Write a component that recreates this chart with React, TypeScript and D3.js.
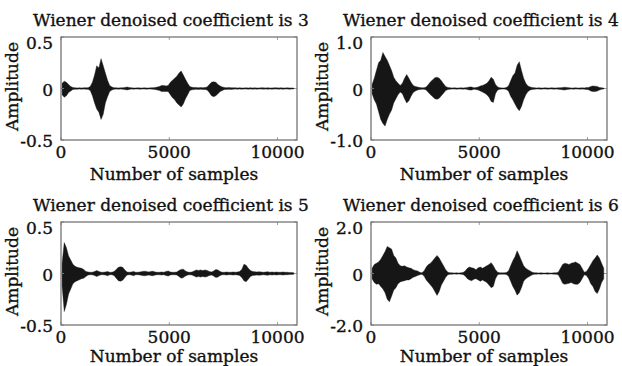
import React from 'react';
import * as d3 from 'd3';

const titles = [
  'Wiener denoised coefficient is 3',
  'Wiener denoised coefficient is 4',
  'Wiener denoised coefficient is 5',
  'Wiener denoised coefficient is 6',
];
const xLabel = 'Number of samples';
const yLabel = 'Amplitude';
const xTicks = [0, 5000, 10000];
const xMax = 10900;
const binSize = 100;
const yMaxes = [0.5, 1.0, 0.5, 2.0];
const yTickLabels = [
  ['0.5', '0', '-0.5'],
  ['1.0', '0', '-1.0'],
  ['0.5', '0', '-0.5'],
  ['2.0', '0', '-2.0'],
];

// Envelope (max / min per 100-sample bin)
const p1Upper = [
  0.05, 0.07, 0.06, 0.04, 0.02, 0.01,
  0.007, 0.006, 0.007, 0.006, 0.007, 0.008, 0.008, 0.02,
  0.06, 0.13, 0.22, 0.2, 0.29, 0.22, 0.15, 0.08, 0.03, 0.015,
  0.008, 0.007, 0.006, 0.007, 0.008, 0.01, 0.015, 0.01, 0.007, 0.006, 0.006, 0.007, 0.006, 0.006, 0.007, 0.006, 0.006, 0.007, 0.008, 0.01,
  0.015, 0.02, 0.03, 0.03, 0.025, 0.03, 0.06, 0.08, 0.1, 0.12, 0.15, 0.17, 0.13, 0.09, 0.05, 0.02, 0.012,
  0.01, 0.01, 0.008, 0.01, 0.008, 0.01,
  0.015, 0.04, 0.06, 0.065, 0.06, 0.04, 0.025, 0.015,
  0.01, 0.008, 0.01, 0.008, 0.007, 0.008, 0.006, 0.007, 0.006, 0.006, 0.007, 0.006, 0.008, 0.006, 0.007, 0.006, 0.006, 0.008, 0.007, 0.006, 0.007, 0.006, 0.006, 0.007, 0.008, 0.006, 0.007, 0.006, 0.006, 0.007, 0.006, 0.006, 0.005,
];
const p1Lower = [
  -0.06, -0.085, -0.07, -0.04, -0.025, -0.01,
  -0.007, -0.007, -0.006, -0.007, -0.006, -0.008, -0.008, -0.02,
  -0.07, -0.14, -0.2, -0.23, -0.3, -0.25, -0.14, -0.08, -0.03, -0.015,
  -0.008, -0.006, -0.007, -0.006, -0.008, -0.01, -0.014, -0.01, -0.006, -0.007, -0.006, -0.006, -0.007, -0.006, -0.006, -0.007, -0.006, -0.006, -0.008, -0.01,
  -0.015, -0.02, -0.03, -0.028, -0.03, -0.03, -0.06, -0.09, -0.11, -0.14, -0.16, -0.18, -0.15, -0.1, -0.06, -0.02, -0.012,
  -0.01, -0.008, -0.01, -0.008, -0.01, -0.009,
  -0.015, -0.04, -0.07, -0.08, -0.07, -0.05, -0.03, -0.02,
  -0.01, -0.009, -0.008, -0.01, -0.007, -0.006, -0.007, -0.006, -0.007, -0.006, -0.006, -0.007, -0.006, -0.008, -0.006, -0.007, -0.006, -0.006, -0.007, -0.006, -0.008, -0.006, -0.007, -0.006, -0.006, -0.007, -0.006, -0.007, -0.006, -0.006, -0.007, -0.006, -0.005,
];

const p2Upper = [
  0.08, 0.2, 0.35, 0.5, 0.55, 0.7, 0.62, 0.55, 0.45, 0.35, 0.22, 0.15, 0.1, 0.06,
  0.1, 0.2, 0.27, 0.2, 0.12, 0.06, 0.04, 0.03, 0.02,
  0.015, 0.015,
  0.03, 0.08, 0.13, 0.17, 0.21, 0.22, 0.2, 0.15, 0.09, 0.04, 0.02,
  0.015, 0.012, 0.015, 0.012, 0.012, 0.015, 0.012, 0.015, 0.02, 0.03, 0.03, 0.015, 0.02,
  0.03, 0.05, 0.06, 0.08, 0.1, 0.15, 0.22, 0.18, 0.08, 0.03,
  0.015, 0.012, 0.012, 0.02,
  0.05, 0.15, 0.25, 0.3, 0.45, 0.52, 0.35, 0.2, 0.1, 0.05, 0.03,
  0.02, 0.015, 0.012, 0.015, 0.012, 0.012, 0.015, 0.012, 0.012, 0.015, 0.012, 0.012, 0.015, 0.015, 0.02, 0.025, 0.02, 0.015, 0.012, 0.012, 0.015, 0.012, 0.012, 0.015, 0.012, 0.02,
  0.02, 0.04, 0.05, 0.045, 0.04, 0.02, 0.015, 0.01,
];
const p2Lower = [
  -0.1, -0.22, -0.3, -0.45, -0.6, -0.68, -0.73, -0.6, -0.5, -0.42, -0.28, -0.2, -0.12, -0.07,
  -0.1, -0.2, -0.28, -0.24, -0.15, -0.08, -0.05, -0.03, -0.02,
  -0.015, -0.015,
  -0.03, -0.08, -0.12, -0.16, -0.2, -0.21, -0.19, -0.14, -0.09, -0.04, -0.02,
  -0.015, -0.012, -0.012, -0.015, -0.012, -0.012, -0.015, -0.012, -0.02, -0.03, -0.03, -0.015, -0.02,
  -0.03, -0.05, -0.07, -0.09, -0.12, -0.17, -0.25, -0.27, -0.1, -0.03,
  -0.015, -0.012, -0.012, -0.02,
  -0.05, -0.15, -0.22, -0.3, -0.38, -0.43, -0.35, -0.22, -0.12, -0.06, -0.03,
  -0.02, -0.015, -0.012, -0.012, -0.015, -0.012, -0.012, -0.015, -0.012, -0.012, -0.015, -0.012, -0.015, -0.02, -0.025, -0.03, -0.02, -0.015, -0.012, -0.015, -0.012, -0.012, -0.015, -0.012, -0.015, -0.02,
  -0.025, -0.05, -0.06, -0.06, -0.05, -0.03, -0.015, -0.01,
];

const p3Upper = [
  0.1, 0.3, 0.25, 0.17, 0.13, 0.09, 0.07, 0.06, 0.055, 0.05, 0.04, 0.02, 0.015,
  0.012, 0.012, 0.02, 0.028, 0.02, 0.012, 0.012, 0.015, 0.02, 0.012, 0.012, 0.02,
  0.04, 0.06, 0.065, 0.06, 0.035,
  0.015, 0.012, 0.015, 0.02, 0.012, 0.012, 0.015, 0.02, 0.022, 0.02, 0.015, 0.02, 0.022, 0.015, 0.012, 0.012, 0.015, 0.012, 0.02, 0.025, 0.015, 0.012, 0.012, 0.015,
  0.03, 0.04, 0.042, 0.025, 0.015, 0.012, 0.015, 0.025, 0.035, 0.03, 0.035, 0.028, 0.035, 0.03, 0.02, 0.015, 0.025, 0.038, 0.035, 0.02, 0.012, 0.012, 0.015, 0.012, 0.012, 0.015, 0.012, 0.015, 0.02,
  0.04, 0.09, 0.08, 0.05, 0.03, 0.02, 0.018, 0.015, 0.018, 0.015, 0.012, 0.015, 0.018, 0.012, 0.015, 0.012, 0.015, 0.012, 0.012, 0.015, 0.012, 0.012, 0.01, 0.01, 0.008,
];
const p3Lower = [
  -0.12, -0.37, -0.3, -0.2, -0.15, -0.1, -0.08, -0.07, -0.06, -0.05, -0.045, -0.03, -0.015,
  -0.012, -0.012, -0.02, -0.03, -0.02, -0.012, -0.012, -0.015, -0.022, -0.012, -0.012, -0.02,
  -0.045, -0.07, -0.075, -0.065, -0.04,
  -0.015, -0.012, -0.015, -0.022, -0.012, -0.012, -0.015, -0.02, -0.022, -0.02, -0.015, -0.02, -0.022, -0.015, -0.012, -0.012, -0.015, -0.012, -0.02, -0.025, -0.015, -0.012, -0.012, -0.015,
  -0.03, -0.045, -0.04, -0.025, -0.015, -0.012, -0.015, -0.025, -0.035, -0.03, -0.035, -0.028, -0.035, -0.03, -0.02, -0.015, -0.025, -0.038, -0.035, -0.02, -0.012, -0.012, -0.015, -0.012, -0.012, -0.015, -0.012, -0.015, -0.02,
  -0.04, -0.07, -0.08, -0.055, -0.03, -0.02, -0.018, -0.015, -0.018, -0.015, -0.012, -0.015, -0.018, -0.012, -0.015, -0.012, -0.015, -0.012, -0.012, -0.015, -0.012, -0.012, -0.01, -0.01, -0.008,
];

const p4Upper = [
  0.2, 0.35, 0.4, 0.45, 0.55, 0.7, 0.85, 1.05, 1.0, 0.95, 0.7, 0.6, 0.4, 0.3, 0.28, 0.3, 0.25, 0.22, 0.2, 0.15, 0.12, 0.1, 0.05, 0.03,
  0.1, 0.25, 0.35, 0.4, 0.5, 0.6, 0.7, 0.6, 0.45, 0.3, 0.15, 0.05,
  0.03, 0.025, 0.02, 0.025, 0.02, 0.025, 0.04,
  0.1, 0.2, 0.25, 0.22, 0.2, 0.15, 0.22, 0.25, 0.2, 0.25, 0.3, 0.35, 0.42, 0.3, 0.15, 0.05,
  0.03, 0.025, 0.025, 0.04,
  0.1, 0.3, 0.5, 0.65, 0.88, 0.7, 0.5, 0.3, 0.2, 0.15, 0.1, 0.05,
  0.03, 0.025, 0.02, 0.025, 0.02, 0.02, 0.025, 0.02, 0.02, 0.025, 0.03, 0.05,
  0.2, 0.35, 0.4, 0.38, 0.35, 0.4, 0.42, 0.45, 0.4, 0.35, 0.2, 0.05,
  0.08, 0.2, 0.35, 0.5, 0.6, 0.72, 0.6, 0.4, 0.2,
];
const p4Lower = [
  -0.2, -0.35, -0.42, -0.4, -0.5, -0.6, -0.75, -1.0, -1.1, -0.88, -0.65, -0.55, -0.4, -0.33, -0.3, -0.28, -0.25, -0.25, -0.2, -0.15, -0.12, -0.08, -0.05, -0.03,
  -0.1, -0.25, -0.35, -0.45, -0.55, -0.7, -0.85, -0.7, -0.45, -0.3, -0.15, -0.05,
  -0.03, -0.025, -0.02, -0.025, -0.02, -0.025, -0.04,
  -0.1, -0.2, -0.25, -0.28, -0.22, -0.2, -0.25, -0.3, -0.25, -0.3, -0.35, -0.45, -0.55, -0.5, -0.2, -0.05,
  -0.03, -0.025, -0.025, -0.04,
  -0.1, -0.3, -0.5, -0.65, -0.84, -0.75, -0.55, -0.3, -0.2, -0.15, -0.1, -0.05,
  -0.03, -0.025, -0.02, -0.025, -0.02, -0.02, -0.025, -0.02, -0.02, -0.025, -0.03, -0.05,
  -0.2, -0.38, -0.42, -0.4, -0.38, -0.35, -0.4, -0.42, -0.42, -0.35, -0.2, -0.05,
  -0.08, -0.2, -0.4, -0.5, -0.7, -0.78, -0.6, -0.35, -0.2,
];

const uppers = [p1Upper, p2Upper, p3Upper, p4Upper];
const lowers = [p1Lower, p2Lower, p3Lower, p4Lower];

const FONT = 'DejaVu Serif';
const BOX_W = 236;
const BOX_H = 103;
const boxes = [
  { x: 61, y: 37 },
  { x: 371, y: 37 },
  { x: 61, y: 222 },
  { x: 371, y: 222 },
];
const txt = { fontFamily: FONT, fill: '#111', stroke: '#111', strokeWidth: 0.35 };

function Panel({ idx }: { idx: number }) {
  const { x: bx, y: by } = boxes[idx];
  const ym = yMaxes[idx];
  const xs = d3.scaleLinear().domain([0, xMax]).range([bx, bx + BOX_W]);
  const ys = d3.scaleLinear().domain([-ym, ym]).range([by + BOX_H, by]);
  const up = uppers[idx];
  const lo = lowers[idx];
  const n = Math.min(up.length, lo.length);
  const data = d3.range(n).map((i) => ({ s: i * binSize + binSize / 2, hi: up[i], lo: lo[i] }));
  const area = d3
    .area<{ s: number; hi: number; lo: number }>()
    .x((d) => xs(d.s))
    .y0((d) => ys(d.lo))
    .y1((d) => ys(d.hi))
    .curve(d3.curveLinear);
  const yTicks = [ym, 0, -ym];
  const tickCol = '#8a8a8a';
  const xlOffset = idx < 2 ? 40 : 37;
  return (
    <g>
      <text x={bx - 28} y={by - 11} fontSize={17} {...txt}>
        {titles[idx]}
      </text>
      <line x1={xs(0)} x2={xs(n * binSize)} y1={ys(0)} y2={ys(0)} stroke="#666" strokeWidth={1} />
      <path d={area(data) || ''} fill="#161616" stroke="#161616" strokeWidth={0.4} />
      {xTicks.map((t) => (
        <g key={'xt' + t}>
          <line x1={xs(t)} x2={xs(t)} y1={by + BOX_H} y2={by + BOX_H - 3} stroke={tickCol} strokeWidth={0.8} />
          <line x1={xs(t)} x2={xs(t)} y1={by} y2={by + 3} stroke={tickCol} strokeWidth={0.8} />
          <text x={xs(t)} y={by + BOX_H + 17.5} textAnchor="middle" fontSize={17} {...txt}>
            {String(t)}
          </text>
        </g>
      ))}
      {yTicks.map((t, j) => (
        <g key={'yt' + j}>
          <line x1={bx} x2={bx + 3} y1={ys(t)} y2={ys(t)} stroke={tickCol} strokeWidth={0.8} />
          <line x1={bx + BOX_W} x2={bx + BOX_W - 3} y1={ys(t)} y2={ys(t)} stroke={tickCol} strokeWidth={0.8} />
          <text x={bx - 8} y={ys(t) + (j === 0 ? 12 : 7)} textAnchor="end" fontSize={17} {...txt}>
            {yTickLabels[idx][j]}
          </text>
        </g>
      ))}
      <rect x={bx} y={by} width={BOX_W} height={BOX_H} fill="none" stroke="#6a6a6a" strokeWidth={1.2} />
      <text
        transform={`translate(${bx - 43},${by + BOX_H / 2 - 2}) rotate(-90)`}
        textAnchor="middle"
        fontSize={17}
        {...txt}
      >
        {yLabel}
      </text>
      <text x={bx + 113} y={by + BOX_H + xlOffset} textAnchor="middle" fontSize={17} {...txt}>
        {xLabel}
      </text>
    </g>
  );
}

export default function App() {
  return (
    <svg
      width={622}
      height={366}
      viewBox="0 0 622 366"
      style={{ position: 'absolute', left: 0, top: 0, background: '#fff' }}
    >
      <rect x={0} y={0} width={622} height={366} fill="#fff" />
      {[0, 1, 2, 3].map((i) => (
        <Panel key={i} idx={i} />
      ))}
    </svg>
  );
}
